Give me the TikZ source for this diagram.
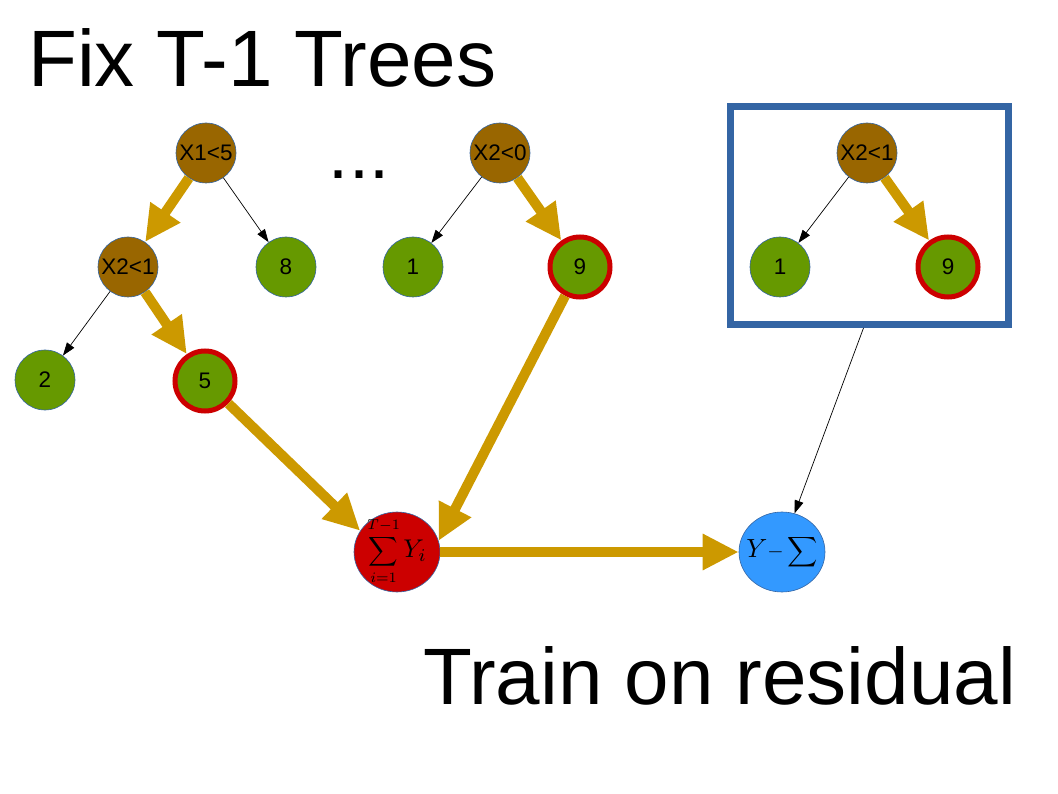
\documentclass[tikz,border=0pt]{standalone}
\usepackage{fontspec}
\setmainfont{Liberation Sans}
\usetikzlibrary{arrows.meta,shapes.geometric}
\definecolor{brownn}{HTML}{996600}
\definecolor{greenn}{HTML}{669900}
\definecolor{redd}{HTML}{CC0000}
\definecolor{goldd}{HTML}{CC9900}
\definecolor{blueb}{HTML}{3465A4}
\definecolor{bluec}{HTML}{3399FF}
\newcommand{\mymath}[3]{\makebox[0pt]{\smash{\raisebox{#2}{\scalebox{#1}{$\displaystyle #3$}}}}}
\tikzset{
  tnode/.style={circle,minimum size=60pt,inner sep=0pt,draw=blueb,line width=0.6pt,font=\fontsize{22.5}{26}\selectfont},
  split/.style={tnode,fill=brownn},
  leaf/.style={tnode,fill=greenn},
  hleaf/.style={tnode,fill=greenn,draw=redd,line width=5pt,minimum size=60pt},
  gold/.style={draw=goldd,line width=10pt,-{Triangle[length=36pt,width=34pt]}},
  thin/.style={draw=black,line width=0.7pt,-{Triangle[length=13pt,width=9pt]}},
  big/.style={font=\fontsize{80}{92}\selectfont,inner sep=0pt,anchor=base west},
  sumnode/.style={ellipse,draw=blueb,line width=0.6pt,minimum width=86pt,minimum height=80pt,inner sep=0pt},
}
\begin{document}
\begin{tikzpicture}[x=1pt,y=-1pt]
\useasboundingbox (0,0) rectangle (1058,794);
\node[big] (title) at (28,87) {Fix T-1 Trees};
\node[big] (train) at (423,704) {Train on residual};
\node[font=\fontsize{72}{72}\selectfont,inner sep=0pt] (dots) at (359,175) {...};
% tree 1
\node[split] (a) at (206,153) {X1<5};
\node[leaf] (a8) at (286,267) {8};
\node[split] (b) at (128,267) {X2<1};
\node[leaf] (b2) at (45,380) {2};
\node[hleaf] (b5) at (205,381) {5};
% tree 2
\node[split] (c) at (500,153) {X2<0};
\node[leaf] (c1) at (413,267) {1};
\node[hleaf] (c9) at (580,267) {9};
% box
\node[draw=blueb,line width=7pt,minimum width=278pt,minimum height=218pt,inner sep=0pt] (box) at (869.5,215.5) {};
\node[split] (d) at (867,153) {X2<1};
\node[leaf] (d1) at (780,267) {1};
\node[hleaf] (d9) at (948,267) {9};
% sums
\node[sumnode,fill=redd] (s) at (397,552) {\mymath{2.05}{-5.2pt}{\sum_{\raisebox{-1pt}{$\scriptstyle i=1$}}^{\raisebox{1.2pt}{$\scriptstyle T-1$}}\mathord{\scalebox{1.25}{$Y_i$}}}};
\node[sumnode,fill=bluec] (r) at (782,552) {\mymath{2.1}{-5.3pt}{\mathord{\scalebox{1.25}{$Y$}}{-}\sum}};
% connectors
\draw[gold] (a) -- (b);
\draw[gold] (b) -- (b5);
\draw[thin] (a) -- (a8);
\draw[thin] (b) -- (b2);
\draw[thin] (c) -- (c1);
\draw[gold] (c) -- (c9);
\draw[thin] (d) -- (d1);
\draw[gold] (d) -- (d9);
\draw[gold] (b5) -- (s.150);
\draw[gold] (c9) -- (s.15);
\draw[gold] (s) -- (r);
\coordinate (bs) at ([xshift=-6pt]box.south);
\draw[thin] (bs) -- (r.72);
\end{tikzpicture}
\end{document}
